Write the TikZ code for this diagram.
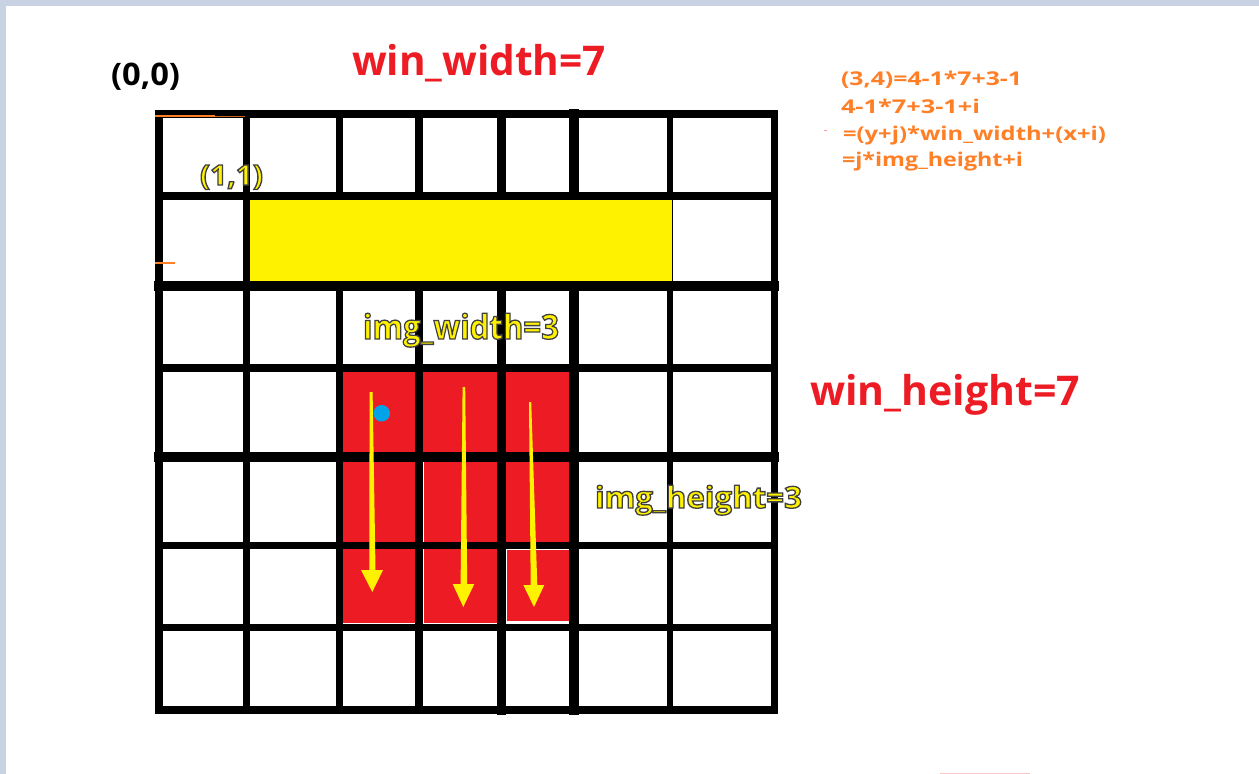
\documentclass[tikz,border=0pt]{standalone}
\usepackage{fontspec}
\IfFontExistsTF{Open Sans Bold}{\newfontfamily\lblfont{Open Sans Bold}}{%
  \IfFontExistsTF{Noto Sans Bold}{\newfontfamily\lblfont{Noto Sans Bold}}{%
    \newfontfamily\lblfont{DejaVu Sans Bold}}}
\usepackage{graphicx}
\definecolor{pred}{HTML}{ED1C24}
\definecolor{pyellow}{HTML}{FFF200}
\definecolor{pblue}{HTML}{00A2E8}
\definecolor{porange}{HTML}{FF7F27}
\definecolor{pframe}{HTML}{C8D2E2}
\newsavebox{\fitbox}
\newcommand{\fitw}[3]{\sbox{\fitbox}{\fontsize{#2}{#2}\selectfont\lblfont #3}\resizebox{#1}{\ht\fitbox}{\usebox{\fitbox}}}
\newcommand{\outl}[1]{\special{pdf:literal direct 0.25 0.25 0.25 RG 1.3 w 2 Tr}#1\special{pdf:literal direct 0 Tr}}
\tikzset{
  lbl/.style={inner sep=0pt, outer sep=0pt, anchor=base west},
  gridline/.style={black, line cap=rect},
  redcell/.style={fill=pred},
  yarrow/.style={fill=pyellow}
}
\begin{document}
\begin{tikzpicture}[x=1pt,y=-1pt]
\useasboundingbox (0,0) rectangle (1259,774);
\fill[pframe] (0,0) rectangle (1259,774);
\fill[white] (6,6) rectangle (1259,774);

% grid lines
\foreach \x/\w in {159/8, 246/7, 339/7, 419/8, 501/9, 574/10, 670/6, 774/7}
  \draw[gridline, line width=\w pt] (\x,114) -- (\x,710);
\foreach \y/\w in {114/8, 196/8, 286/10, 368/8, 457/10, 545/7, 627/7, 710/8}
  \draw[gridline, line width=\w pt] (159,\y) -- (774,\y);

% yellow row
\fill[pyellow] (249.5,200) rectangle (671.6,281);

% red cells
\fill[redcell] (342.5,372) rectangle (415,451.5);
\fill[redcell] (423,372) rectangle (497,452);
\fill[redcell] (505.5,372) rectangle (569,452);
\fill[redcell] (342.5,462) rectangle (415,541.5);
\fill[redcell] (424,462) rectangle (497,541.5);
\fill[redcell] (506,462) rectangle (569,541.5);
\fill[redcell] (342.5,548.5) rectangle (415,623);
\fill[redcell] (424,548.5) rectangle (497,623);
\fill[redcell] (507,550) rectangle (569,621);

% yellow arrows
\fill[yarrow] (369.6,392) -- (372.6,392) -- (375.5,570) -- (383,570) -- (372.3,592)
  -- (361,570) -- (369.3,570) -- cycle;
\fill[yarrow] (462.6,387) -- (465.2,387) -- (467.2,584) -- (474.3,584) -- (463.3,607)
  -- (452.7,584) -- (460.6,584) -- cycle;
\fill[yarrow] (529,402) -- (531.2,402) -- (537.3,585) -- (544.3,585) -- (534,607)
  -- (523.3,585) -- (530.7,585) -- cycle;

% blue dot
\fill[pblue] (381.7,413.3) circle (8.3);

% small stray marks
\draw[porange, line width=1.2pt] (155,116) -- (215,116);
\draw[porange!80!black, line width=1pt] (215,116) -- (245,116);
\draw[porange, line width=1.2pt] (155,263) -- (175,263);
\draw[pred!45, line width=0.8pt] (824,130) -- (827,130);
\draw[pred!25, line width=1pt] (940,773.5) -- (1030,773.5);

% labels
\node[lbl] (origin) at (111,85) {\color{black}\fitw{69pt}{31}{(0,0)}};
\node[lbl] (winw) at (352,75) {\color{pred}\fitw{254pt}{41}{win\_width=7}};
\node[lbl] (p11) at (200,185) {\color{pyellow}\fitw{63pt}{28}{\outl{(1,1)}}};
\node[lbl] (imgw) at (363,339) {\color{pyellow}\fitw{196pt}{34}{\outl{img\_width=3}}};
\node[lbl] (winh) at (810,405) {\color{pred}\fitw{270pt}{41}{win\_height=7}};
\node[lbl] (imgh) at (595,508) {\color{pyellow}\fitw{207pt}{30}{\outl{img\_height=3}}};

\node[lbl] (f1) at (841,85) {\color{porange}\fitw{181pt}{19}{(3,4)=4-1*7+3-1}};
\node[lbl] (f2) at (841,113) {\color{porange}\fitw{139pt}{19}{4-1*7+3-1+i}};
\node[lbl] (f3) at (843,140.5) {\color{porange}\fitw{263pt}{19}{=(y+j)*win\_width+(x+i)}};
\node[lbl] (f4) at (842,166.5) {\color{porange}\fitw{181pt}{19}{=j*img\_height+i}};
\end{tikzpicture}
\end{document}
